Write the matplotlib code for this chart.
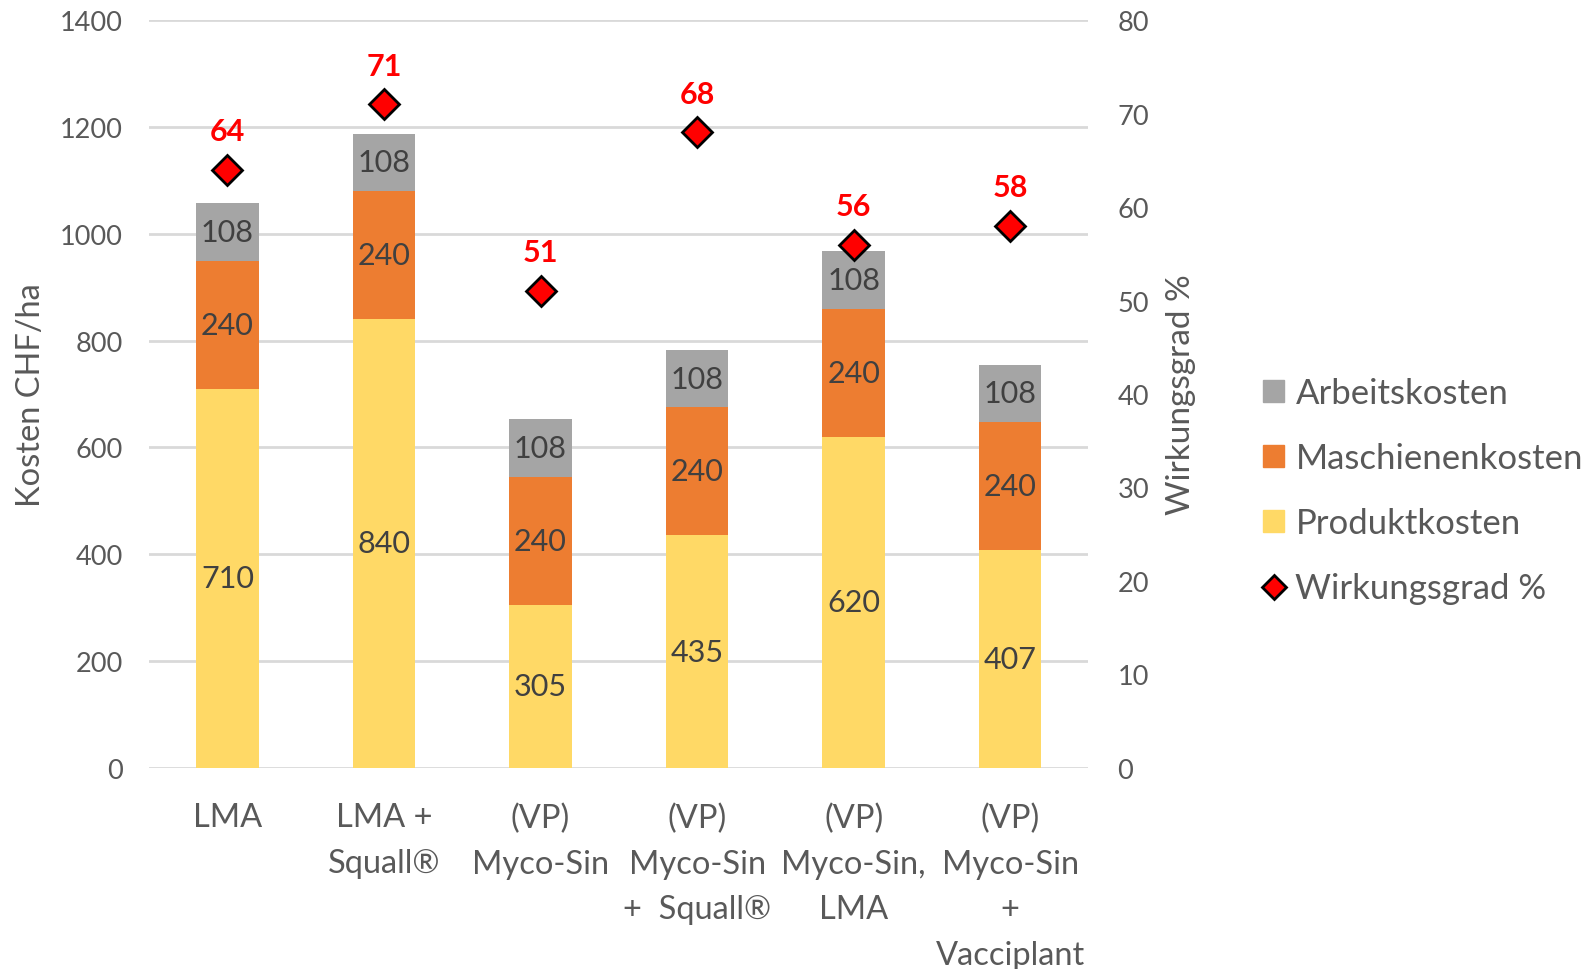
import numpy as np
import matplotlib.pyplot as plt
from matplotlib.patches import Patch
from matplotlib.lines import Line2D

plt.rcParams['font.family'] = ['Lato', 'DejaVu Sans']

categories = ["LMA", "LMA +\nSquall®", "(VP)\nMyco-Sin", "(VP)\nMyco-Sin\n+  Squall®",
              "(VP)\nMyco-Sin,\nLMA", "(VP)\nMyco-Sin\n+\nVacciplant"]
produkt = [710, 840, 305, 435, 620, 407]
maschinen = [240, 240, 240, 240, 240, 240]
arbeit = [108, 108, 108, 108, 108, 108]
wirkung = [64, 71, 51, 68, 56, 58]

c_gray = "#A5A5A5"
c_orange = "#ED7D31"
c_yellow = "#FFD966"
txt = "#595959"

fig = plt.figure(figsize=(15.92, 9.70), dpi=100)
ax = fig.add_axes([0.0937, 0.2076, 0.59, 0.7704])
x = np.arange(len(categories))
w = 0.4

b1 = ax.bar(x, produkt, w, color=c_yellow, zorder=2)
b2 = ax.bar(x, maschinen, w, bottom=produkt, color=c_orange, zorder=2)
bottom2 = np.array(produkt) + np.array(maschinen)
b3 = ax.bar(x, arbeit, w, bottom=bottom2, color=c_gray, zorder=2)

for bars in (b1, b2, b3):
    ax.bar_label(bars, label_type='center', fontsize=22, color="#404040")

ax.set_xlim(-0.5, 5.5)
ax.set_ylim(0, 1400)
ax.set_yticks(range(0, 1401, 200))
ax.grid(axis='y', color="#D9D9D9", linewidth=2, zorder=0)
for s in ax.spines.values():
    s.set_visible(False)
ax.set_xticks(x)
ax.set_xticklabels(categories, linespacing=1.66)
ax.tick_params(axis='x', length=0, pad=25, labelsize=23.5, labelcolor=txt)
ax.tick_params(axis='y', length=0, pad=19, labelsize=19.5, labelcolor=txt)
ax.set_ylabel("Kosten CHF/ha", fontsize=23.5, color=txt, labelpad=10)

ax2 = ax.twinx()
ax2.set_ylim(0, 80)
ax2.set_yticks(range(0, 81, 10))
for s in ax2.spines.values():
    s.set_visible(False)
ax2.tick_params(axis='y', length=0, pad=21, labelsize=19.5, labelcolor=txt)
ax2.set_ylabel("Wirkungsgrad %", fontsize=24, color=txt, labelpad=12)
ax2.plot(x, wirkung, linestyle='none', marker='D', markersize=15,
         markerfacecolor='red', markeredgecolor='black', markeredgewidth=2, zorder=3)
for xi, v in zip(x, wirkung):
    ax2.annotate(str(v), (xi, v), xytext=(0, 28), textcoords='offset points',
                 ha='center', va='center', color='red', fontsize=22, fontweight='bold')

handles = [Patch(color=c_gray), Patch(color=c_orange), Patch(color=c_yellow),
           Line2D([], [], linestyle='none', marker='D', markersize=12,
                  markerfacecolor='red', markeredgecolor='black', markeredgewidth=2)]
labels = ["Arbeitskosten", "Maschienenkosten", "Produktkosten", "Wirkungsgrad %"]
leg = fig.legend(handles, labels, loc='center left', bbox_to_anchor=(0.774, 0.493),
                 frameon=False, fontsize=25, labelspacing=0.95, handlelength=0.6,
                 handleheight=0.6, handletextpad=0.32, labelcolor=txt)

fig.savefig("out.png", dpi=100)
